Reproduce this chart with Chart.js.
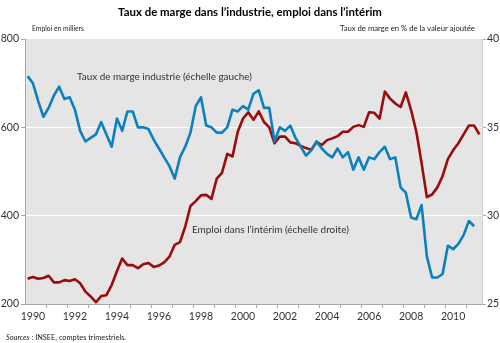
<!DOCTYPE html>
<html>
<head>
<meta charset="utf-8">
<script src="https://cdn.jsdelivr.net/npm/chart.js@4/dist/chart.umd.min.js"></script>
<style>
html,body{margin:0;padding:0;background:#fff;}
#wrap{width:500px;height:343px;position:relative;}
</style>
</head>
<body>
<div id="wrap"><canvas id="c" width="500" height="343"></canvas></div>
<script>
// ---- Data (quarterly, 1990T1 .. 2011T3) ----
const firstYear = 1990;
const categories = [];
for (let y = 1990; y <= 2011; y++) for (let q = 1; q <= 4; q++) categories.push(y + 'T' + q);
categories.length = 87;

// Emploi dans l'intérim (milliers) - left axis
const emploiInterim = [
  257,261,257,259,264,249,249,254,252,256,
  247,228,217,204,218,220,243,274,303,288,
  288,281,290,293,284,287,294,307,334,340,
  375,422,433,446,447,438,484,497,540,534,
  590,620,634,617,636,612,600,564,579,579,
  566,564,558,553,549,567,560,571,575,580,
  590,590,601,605,601,634,633,620,681,665,
  654,646,679,639,590,519,442,448,464,490,
  528,548,564,584,604,604,584
];

// Taux de marge industrie (% de la valeur ajoutée) - right axis
const tauxMarge = [
  37.9,37.5,36.5,35.6,36.1,36.8,37.3,36.6,36.7,36.0,
  34.8,34.2,34.4,34.6,35.3,34.6,33.9,35.5,34.8,35.9,
  35.9,35.0,35.0,34.9,34.3,33.8,33.3,32.8,32.1,33.3,
  33.9,34.7,36.2,36.7,35.1,35.0,34.7,34.7,35.0,36.0,
  35.9,36.2,36.0,36.9,37.1,36.1,36.1,34.2,35.0,34.8,
  35.1,34.4,33.9,33.4,33.7,34.2,33.8,33.5,33.3,33.8,
  33.3,33.6,32.6,33.3,32.6,33.3,33.2,33.6,33.9,33.2,
  33.3,31.6,31.3,29.9,29.8,30.6,27.7,26.5,26.5,26.7,
  28.3,28.1,28.4,28.9,29.7,29.4
];

const yearLabels = ['1990','1992','1994','1996','1998','2000','2002','2004','2006','2008','2010'];
const leftTicks = [200, 400, 600, 800];
const rightTicks = [25, 30, 35, 40];

const titleText = 'Taux de marge dans l\u2019industrie, emploi dans l\u2019int\u00e9rim';
const leftAxisTitle = 'Emploi en milliers';
const rightAxisTitle = 'Taux de marge en % de la valeur ajout\u00e9e';
const blueLabel = 'Taux de marge industrie (\u00e9chelle gauche)';
const redLabel = 'Emploi dans l\u2019int\u00e9rim (\u00e9chelle droite)';
const sourceItalic = 'Sources';
const sourceRest = ' : INSEE, comptes trimestriels.';

const RED = '#9c0b0b';
const BLUE = '#0c80bf';
const FONT = 'Lato, "Open Sans", sans-serif';

function fitFont(ctx, text, weight, style, target, base) {
  let s = base;
  ctx.font = style + ' ' + weight + ' ' + s + 'px ' + FONT;
  const w = ctx.measureText(text).width;
  s = s * target / w;
  ctx.font = style + ' ' + weight + ' ' + s.toFixed(2) + 'px ' + FONT;
  return s;
}

const bgPlugin = {
  id: 'bg',
  beforeDraw(chart) {
    const {ctx, chartArea: a} = chart;
    ctx.save();
    ctx.fillStyle = '#e5e5e5';
    ctx.fillRect(a.left, a.top, a.right - a.left, a.bottom - a.top);
    ctx.restore();
  }
};

const textPlugin = {
  id: 'texts',
  afterDraw(chart) {
    const ctx = chart.ctx;
    ctx.save();
    ctx.textBaseline = 'middle';
    // title
    ctx.fillStyle = '#000';
    ctx.textAlign = 'center';
    fitFont(ctx, titleText, 'bold', 'normal', 264, 12);
    ctx.fillText(titleText, 250, 12);
    // axis titles
    ctx.fillStyle = '#222';
    ctx.textAlign = 'left';
    fitFont(ctx, leftAxisTitle, 'normal', 'normal', 52, 8);
    ctx.fillText(leftAxisTitle, 32, 29);
    ctx.textAlign = 'left';
    fitFont(ctx, rightAxisTitle, 'normal', 'normal', 135, 8);
    ctx.fillText(rightAxisTitle, 340, 29);
    // series annotations
    ctx.fillStyle = '#333';
    fitFont(ctx, blueLabel, 'normal', 'normal', 175, 10);
    ctx.fillText(blueLabel, 77, 77);
    fitFont(ctx, redLabel, 'normal', 'normal', 157, 10);
    ctx.fillText(redLabel, 192, 230);
    // source
    ctx.fillStyle = '#222';
    const s = fitFont(ctx, sourceItalic + sourceRest, 'normal', 'normal', 122, 7);
    ctx.font = 'italic normal ' + s.toFixed(2) + 'px ' + FONT;
    ctx.fillText(sourceItalic, 6, 338);
    const w1 = ctx.measureText(sourceItalic).width;
    ctx.font = 'normal normal ' + s.toFixed(2) + 'px ' + FONT;
    ctx.fillText(sourceRest, 6 + w1, 338);
    ctx.restore();
  }
};

const redPts = emploiInterim.map((v, i) => ({x: i + 0.5, y: v}));
const bluePts = tauxMarge.map((v, i) => ({x: i + 0.5, y: v}));

new Chart(document.getElementById('c'), {
  type: 'line',
  data: {
    labels: categories,
    datasets: [
      {label: 'Emploi dans l\u2019int\u00e9rim', data: redPts, yAxisID: 'y', borderColor: RED,
       borderWidth: 2.6, pointRadius: 0, tension: 0, borderJoinStyle: 'round', order: 2},
      {label: 'Taux de marge industrie', data: bluePts, yAxisID: 'y1', borderColor: BLUE,
       borderWidth: 2.6, pointRadius: 0, tension: 0, borderJoinStyle: 'round', order: 1}
    ]
  },
  options: {
    responsive: false,
    animation: false,
    layout: {padding: {top: 39, left: 0, right: 0, bottom: 0}},
    plugins: {legend: {display: false}, title: {display: false}, tooltip: {enabled: false}},
    scales: {
      x: {
        type: 'linear', min: 0, max: 87,
        afterFit(scale) { scale.height = 39; },
        afterBuildTicks(scale) {
          const t = [];
          for (let k = 0; k <= 21; k++) {
            if (k > 0) t.push({value: 4 * k});
            if (k % 2 === 0 && k <= 20) t.push({value: 4 * k + 1.5});
          }
          scale.ticks = t;
        },
        ticks: {
          autoSkip: false, maxRotation: 0, padding: 2, color: '#333',
          font: {family: FONT, size: 10.5},
          callback(v) {
            if (Number.isInteger(v)) return '';
            const k = Math.round((v - 1.5) / 4);
            return yearLabels[k / 2] || '';
          }
        },
        grid: {
          drawOnChartArea: false, tickLength: 4,
          tickColor: (c) => (c.tick && Number.isInteger(c.tick.value)) ? '#a8a8a8' : 'rgba(0,0,0,0)'
        },
        border: {display: true, color: '#a8a8a8'}
      },
      y: {
        position: 'left', min: 200, max: 800,
        afterFit(scale) { scale.width = 25; },
        afterBuildTicks(scale) { scale.ticks = leftTicks.map(v => ({value: v})); },
        ticks: {padding: 2, color: '#333', font: {family: FONT, size: 10.5}},
        grid: {
          tickLength: 4,
          color: (c) => (c.tick && (c.tick.value === 400 || c.tick.value === 600)) ? '#ffffff' : 'rgba(0,0,0,0)',
          tickColor: '#a8a8a8'
        },
        border: {display: true, color: '#a8a8a8'}
      },
      y1: {
        position: 'right', min: 25, max: 40,
        afterFit(scale) { scale.width = 18; },
        afterBuildTicks(scale) { scale.ticks = rightTicks.map(v => ({value: v})); },
        ticks: {padding: 1, color: '#333', font: {family: FONT, size: 10.5}},
        grid: {drawOnChartArea: false, tickLength: 4, tickColor: '#a8a8a8'},
        border: {display: true, color: '#d0d0d0'}
      }
    }
  },
  plugins: [bgPlugin, textPlugin]
});
</script>
</body>
</html>
